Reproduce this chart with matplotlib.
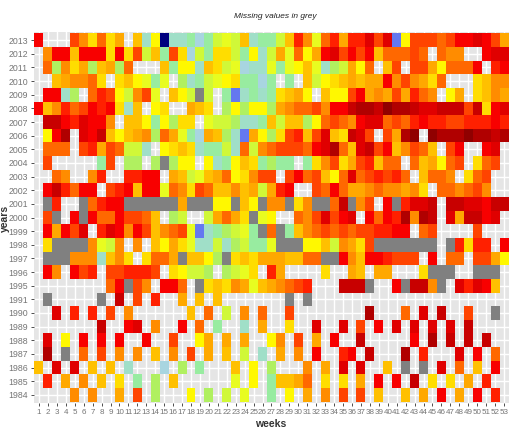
import matplotlib
matplotlib.use("Agg")
import matplotlib.pyplot as plt
import numpy as np
from matplotlib.colors import ListedColormap

plt.rcParams["font.family"] = ["Liberation Sans", "DejaVu Sans"]

weeks = list(range(1, 54))
years = [2013, 2012, 2011, 2010, 2009, 2008, 2007, 2006, 2005, 2004, 2003, 2002, 2001, 2000,
         1999, 1998, 1997, 1996, 1995, 1991, 1990, 1989, 1988, 1987, 1986, 1985, 1984]

# one letter per week: a (coldest) ... u (hottest), # = NA tile, . = no tile at all
levels = "abcdefghijklmnopqrstu#"
level_colours = [
    "#00007f", "#6478f0", "#a8d5e0", "#a0dfc8", "#98eca0", "#b0f060", "#d0f838", "#e8fc20",
    "#fff800", "#ffdd00", "#ffc000", "#ffa800", "#ff8c00", "#ff6800", "#ff4400", "#ff2000",
    "#f80000", "#e00000", "#c80000", "#b00000", "#900000", "#808080",
]

y2013 = "q...omjnjl" ".kdiaddece" "ghgkdeegkp" "mhnplppror" "biooonoqqr" "qol"
y2012 = ".mqqkqqqjq" "jogkeojcge" "jjgeidglhn" "ilqroqoqkn" "nnon.nmm.." "qrr"
y2011 = ".nfmjlfklf" "n...keiidk" "jghcddhehi" "khdfglin.k" "o.oolinnnq" ".pq"
y2010 = "..klmmnj.j" "kiheh.fdeg" "hijeece.e." "kgijklkllq" "momljn...j" "kmm"
y2009 = ".qqdf.npoi" "gmoh.kig#g" ".ebdedejkl" "i.kiioqlml" "olpnm.il.j" "kml"
y2008 = "qkmpnoqpqj" "dk.ij..lkj" ".fifiiflmn" "nomqqsttsu" "ttsrrsssos" "jqr"
y2007 = ".ssqprqqm." "kkieifjj.h" "ggfddekgkk" "finonmqrrn" "onpqppoopp" "pqp"
y2006 = ".iqt.rqski" "klmfnlhecl" "kfdblifjop" "korkjsro.o" "ltu.utttut" "tst"
y2005 = ".nnn.oplon" "ggd.ijkjde" "egdngmnooo" "nqrtnkrsoq" "kmonk.oq.." "qr."
y2004 = ".o.....eo." "ff.f#fii.i" "deikjefee." "ejmojlopkn" "n.nklino.j" "no."
y2003 = "..nm..mp.." "ppqq.lkghk" "lnijmoo.oq" "nokinrnopo" "pn.knnm.jn" "o.."
y2002 = ".qspnqq.op" "qkqqhnmjon" "kkmklglpq." ".onqnllmnm" "mlmj.nnmno" "m.."
y2001 = ".#p..#npqq" "######l###" "ii#ki#mm#j" "m##ns#mo.q" "#prrs.ssrr" "qss"
y2000 = ".o#.q#qnnq" "oonk.fg..g" "lnlj#hi..n" "moroqr.qnq" "ptmts.rlss" "qr."
y1999 = ".qlqor.prq" "mqokmnohbd" "efghe#n#ek" "mnononoopp" "qq.no....o" "..."
y1998 = ".j####mhgm" ".m.kiljhdd" "gdfgeeh###" "iikgmljo##" "#####.#pjp" "p.q"
y1997 = ".###mmmdkm" "j.jnnl#kki" "f#jkjlllkk" "nn##qmkqqp" "ooo.q.nn.o" "oli"
y1996 = ".qm.qop.oo" "pppo.jiggf" ".fghj.pl.." "..j..lk.ll" "...j###..#" "##."
y1995 = "........nq" "#om.qqn.#j" "kjmlhklmno" "p...sss#.." "q#ssm#.rpr" "qk."
y1991 = ".#.....#.s" ".o.p..l.k." "k.......#." "#........." ".........." "..."
y1990 = "..r.p.p.o." "m......k.n" ".g.m.n..o." ".......t.." ".n.r.s..o." ".#."
y1989 = ".......s.." "qr.m..q.n." "e..d.l..j." ".r..r.o.q." "r.r.r.r.s." "..."
y1988 = ".r.i.q.q.q" "..q..o..il" ".l.l..im.o" ".l.q..s..." "..q.t.s.s." "s.."
y1987 = ".t.#.n.o.m" ".m.k.m.o.l" ".k.g.d.l.m" ".q..pq.s.." ".t.p...r.q" ".n."
y1986 = "k.r.r.k.k." "d...c.f.e." "..k.i.f..." "m.l.r.r..k" ".#.#.r.n.k" ".q."
y1985 = ".p.l.m.k.j" ".e.f.k...." "..h.i.ekkl" "n.j.j.l.q." "q.s.j.j.l." "p.."
y1984 = "....m.m..l" ".o.f...i.f" ".g.h..e.i." "l.m.o.o.k." ".k.l.q.l.q" ".p."

rows = [y2013, y2012, y2011, y2010, y2009, y2008, y2007, y2006, y2005, y2004, y2003, y2002,
        y2001, y2000, y1999, y1998, y1997, y1996, y1995, y1991, y1990, y1989, y1988, y1987,
        y1986, y1985, y1984]


def decode(row):
    return [levels.index(c) if c != "." else np.nan for c in row]


W, H = 509, 432
fig = plt.figure(figsize=(W / 100, H / 100), dpi=100)
# panel in pixels, ggplot style
left, right, top, bottom = 33.6, 509.4, 32.0, 403.0
ax = fig.add_axes([left / W, 1 - bottom / H, (right - left) / W, (bottom - top) / H])
ax.set_facecolor("#e5e5e5")

grid = np.ma.masked_invalid(np.array([decode(r) for r in rows], dtype=float))
x = np.arange(len(weeks))
y = np.arange(len(years))[::-1]
cmap = ListedColormap(level_colours)
ax.pcolormesh(x, y, grid, cmap=cmap, vmin=-0.5, vmax=len(levels) - 0.5,
              shading="nearest", zorder=2, linewidth=0, antialiased=False)

ax.set_xlim(-0.6, len(weeks) - 0.4)
ax.set_ylim(-0.6, len(years) - 0.4)
ax.set_xticks(x, [str(w) for w in weeks])
ax.set_yticks(y, [str(v) for v in years])
ax.grid(True, color="white", lw=1.0, zorder=1)
ax.set_axisbelow(True)
ax.tick_params(axis="both", length=2.5, width=0.7, color="#4d4d4d", labelcolor="#757575", pad=1.5)
ax.tick_params(axis="x", labelsize=5.8)
ax.tick_params(axis="y", labelsize=6.3)
for s in ax.spines.values():
    s.set_visible(False)

fig.text(275 / W, 1 - 16 / H, "Missing values in grey", fontsize=6, style="italic",
         ha="center", va="center", color="#222222")
fig.text(271 / W, 1 - 424 / H, "weeks", fontsize=7.5, fontweight="bold", ha="center",
         va="center", color="#333333")
fig.text(5 / W, 1 - 218 / H, "years", fontsize=7.5, fontweight="bold", rotation=90,
         ha="center", va="center", color="#333333")

fig.savefig("out.png", dpi=100)
plt.close(fig)
